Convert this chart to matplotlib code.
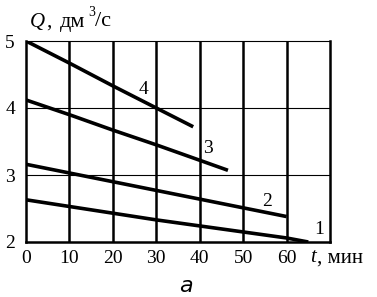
import matplotlib
matplotlib.use("Agg")
import matplotlib.pyplot as plt

plt.rcParams['font.family'] = ['Liberation Serif', 'DejaVu Serif']

# Data
t1 = [0, 10, 20, 30, 40, 50, 60, 65]
q1 = [2.63, 2.53, 2.43, 2.33, 2.24, 2.15, 2.06, 2.0]
t2 = [0, 10, 20, 30, 40, 50, 60]
q2 = [3.16, 3.03, 2.90, 2.77, 2.64, 2.51, 2.38]
t3 = [0, 10, 20, 30, 40, 46.5]
q3 = [4.12, 3.90, 3.67, 3.45, 3.22, 3.07]
t4 = [0, 10, 20, 30, 38.5]
q4 = [5.0, 4.67, 4.33, 4.0, 3.72]
curve_labels = ["1", "2", "3", "4"]
xticks = [0, 10, 20, 30, 40, 50, 60]
yticks = [2, 3, 4, 5]

fig = plt.figure(figsize=(3.77, 2.97), dpi=100)
ax = fig.add_axes([26/377, 1-242/297, 304/377, 201/297])
ax.set_xlim(0, 70)
ax.set_ylim(2, 5)

# grid: thick verticals, thin horizontals
for x in [10, 20, 30, 40, 50, 60]:
    ax.axvline(x, color='black', lw=1.8, zorder=1)
for y in [3, 4]:
    ax.axhline(y, color='black', lw=0.8, zorder=1)

for sp in ['left', 'bottom', 'right']:
    ax.spines[sp].set_linewidth(1.8)
ax.spines['top'].set_linewidth(0.8)

for t, q in [(t1, q1), (t2, q2), (t3, q3), (t4, q4)]:
    ax.plot(t, q, color='black', lw=2.6, zorder=3, solid_capstyle='butt')

ax.set_xticks(xticks)
ax.set_xticklabels([str(v) for v in xticks])
ax.set_yticks(yticks)
ax.set_yticklabels([str(v) for v in yticks])
ax.tick_params(length=0, labelsize=14)
ax.tick_params(axis='x', pad=6)
ax.tick_params(axis='y', pad=8)

# curve labels
pos = [(67.5, 2.18), (55.5, 2.6), (42, 3.4), (27, 4.28)]
for (x, y), lab in zip(pos, curve_labels):
    ax.text(x, y, lab, fontsize=14, ha='center', va='center')

# axis titles
fig.text(30/377, 1-22/297, "Q", fontsize=15, style='italic', ha='left', va='center')
fig.text(46/377, 1-22/297, ",", fontsize=15, ha='left', va='center')
fig.text(60/377, 1-22/297, "дм", fontsize=16, ha='left', va='center')
fig.text(88/377, 1-12/297, "3", fontsize=10, ha='left', va='center')
fig.text(95/377, 1-22/297, "/с", fontsize=16, ha='left', va='center')
fig.text(310/377, 1-258/297, "t", fontsize=15, style='italic', ha='left', va='center')
fig.text(317/377, 1-258/297, ", мин", fontsize=15, ha='left', va='center')
fig.text(186/377, 1-286/297, "а", fontsize=16, style='italic', family='DejaVu Sans', ha='center', va='center')

fig.savefig("out.png", dpi=100)
